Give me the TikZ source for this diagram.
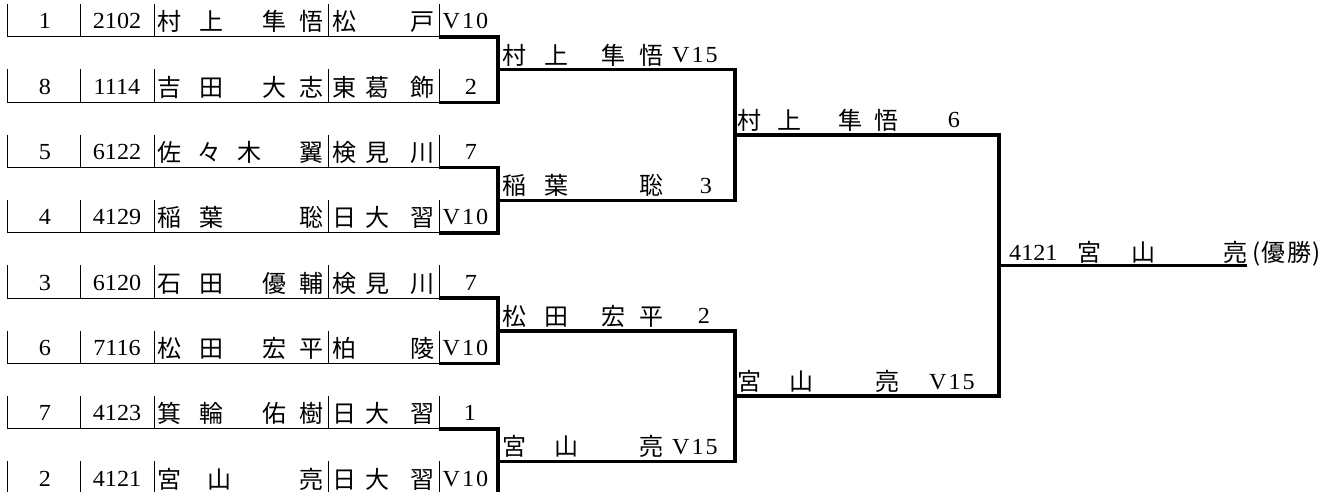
\documentclass[tikz,border=0pt]{standalone}
\usepackage{fontspec}
\usetikzlibrary{calc}
\setmainfont{Liberation Serif}[FakeStretch=1.05]
\newfontfamily\jp{Noto Sans CJK JP}
\newcommand\hf{\hfill{}}
\begin{document}
\begin{tikzpicture}[x=1pt,y=-1pt,
  thin line/.style={line width=1pt,black},
  bk/.style={line width=3.5pt,black,line join=miter},
  lat/.style={font=\fontsize{23pt}{27pt}\selectfont,inner sep=0pt,anchor=base},
  jpn/.style={font=\jp\fontsize{24pt}{28pt}\selectfont,inner sep=0pt,anchor=base west}]
\useasboundingbox (0,0) rectangle (1336,492);
% ---- entry rows
\foreach \i/\s/\d/\n/\c/\p/\px in {
 1/1/2102/{村\kern18pt上\hf 隼\kern13pt悟}/{松\hf 戸}/{V\kern2pt1\kern2pt0}/465.5,
 2/8/1114/{吉\kern18pt田\hf 大\kern13pt志}/{東\kern9pt葛\hf 飾}/2/471,
 3/5/6122/{佐\kern16pt々\kern16pt木\hf 翼}/{検\kern9pt見\hf 川}/7/471,
 4/4/4129/{稲\kern18pt葉\hf 聡}/{日\kern9pt大\hf 習}/{V\kern2pt1\kern2pt0}/465.5,
 5/3/6120/{石\kern18pt田\hf 優\kern13pt輔}/{検\kern9pt見\hf 川}/7/471,
 6/6/7116/{松\kern18pt田\hf 宏\kern13pt平}/{柏\hf 陵}/{V\kern2pt1\kern2pt0}/465.5,
 7/7/4123/{箕\kern18pt輪\hf 佑\kern13pt樹}/{日\kern9pt大\hf 習}/1/470,
 8/2/4121/{宮\kern26pt山\hf 亮}/{日\kern9pt大\hf 習}/{V\kern2pt1\kern2pt0}/465.5}{
  \pgfmathsetmacro\yy{37+65.3*(\i-1)}
  \coordinate (L\i) at (7,\yy);
  \coordinate (T\i) at (439,\yy);
  \coordinate (R\i) at (498,\yy);
  \foreach \xx in {7,80,154,328,439}{
    \draw[thin line] (\xx,\yy-33) -- (\xx,\yy);
  }
  \draw[thin line] (L\i) -- (T\i);
  \node[lat] (seed\i) at (45,\yy-8) {\s};
  \node[lat] (id\i) at (117,\yy-8) {\d};
  \node[jpn] (name\i) at (157,\yy-6) {\hbox to 166pt{\n}};
  \node[jpn] (club\i) at (332,\yy-6) {\hbox to 102pt{\c}};
  \node[lat] (score\i) at (\px,\yy-8) {\p};
}
% ---- round 1 brackets
\foreach \a/\b/\k in {1/2/1,3/4/2,5/6/3,7/8/4}{
  \draw[bk] (T\a) -- (R\a) -- (R\b) -- (T\b);
  \coordinate (M\k) at ($(R\a)!0.5!(R\b)$);
  \coordinate (N\k) at ($(M\k)+(237,0)$);
}
% ---- round 2 brackets
\foreach \a/\b/\k in {1/2/1,3/4/2}{
  \draw[bk] (M\a) -- (N\a) -- (N\b) -- (M\b);
  \coordinate (P\k) at ($(N\a)!0.5!(N\b)$);
  \coordinate (Q\k) at ($(P\k)+(264,0)$);
}
% ---- round 3 bracket and final
\draw[bk] (P1) -- (Q1) -- (Q2) -- (P2);
\coordinate (F0) at ($(Q1)!0.5!(Q2)$);
\coordinate (F1) at ($(F0)+(248,0)$);
\draw[bk] (F0) -- (F1);
% ---- round 2 texts
\node[jpn] (w1) at ($(M1)+(4,-5.5)$) {\hbox to 161pt{村\kern18pt上\hf 隼\kern14pt悟}};
\node[lat] (w1s) at ($(M1)+(197,-7)$) {V\kern2pt1\kern2pt5};
\node[jpn] (w2) at ($(M2)+(4,-5.5)$) {\hbox to 161pt{稲\kern18pt葉\hf 聡}};
\node[lat] (w2s) at ($(M2)+(208,-7)$) {3};
\node[jpn] (w3) at ($(M3)+(4,-5.5)$) {\hbox to 161pt{松\kern18pt田\hf 宏\kern14pt平}};
\node[lat] (w3s) at ($(M3)+(206,-7)$) {2};
\node[jpn] (w4) at ($(M4)+(4,-5.5)$) {\hbox to 161pt{宮\kern28pt山\hf 亮}};
\node[lat] (w4s) at ($(M4)+(197,-7)$) {V\kern2pt1\kern2pt5};
% ---- round 3 texts
\node[jpn] (v1) at ($(P1)+(2,-5.5)$) {\hbox to 161pt{村\kern16pt上\hf 隼\kern12pt悟}};
\node[lat] (v1s) at ($(P1)+(219,-7)$) {6};
\node[jpn] (v2) at ($(P2)+(2,-5.5)$) {\hbox to 162pt{宮\kern28pt山\hf 亮}};
\node[lat] (v2s) at ($(P2)+(217,-7)$) {V\kern2pt1\kern2pt5};
% ---- champion
\node[lat,anchor=base west] (cid) at ($(F0)+(10,-5.5)$) {4121};
\node[jpn] (cname) at ($(F0)+(78,-4.5)$) {\hbox to 170pt{宮\kern30pt山\hf 亮}};
\node[jpn] (ctitle) at ($(F1)+(5,-4.5)$) {(\kern1pt優\kern2pt勝\kern1pt)};
\end{tikzpicture}
\end{document}
